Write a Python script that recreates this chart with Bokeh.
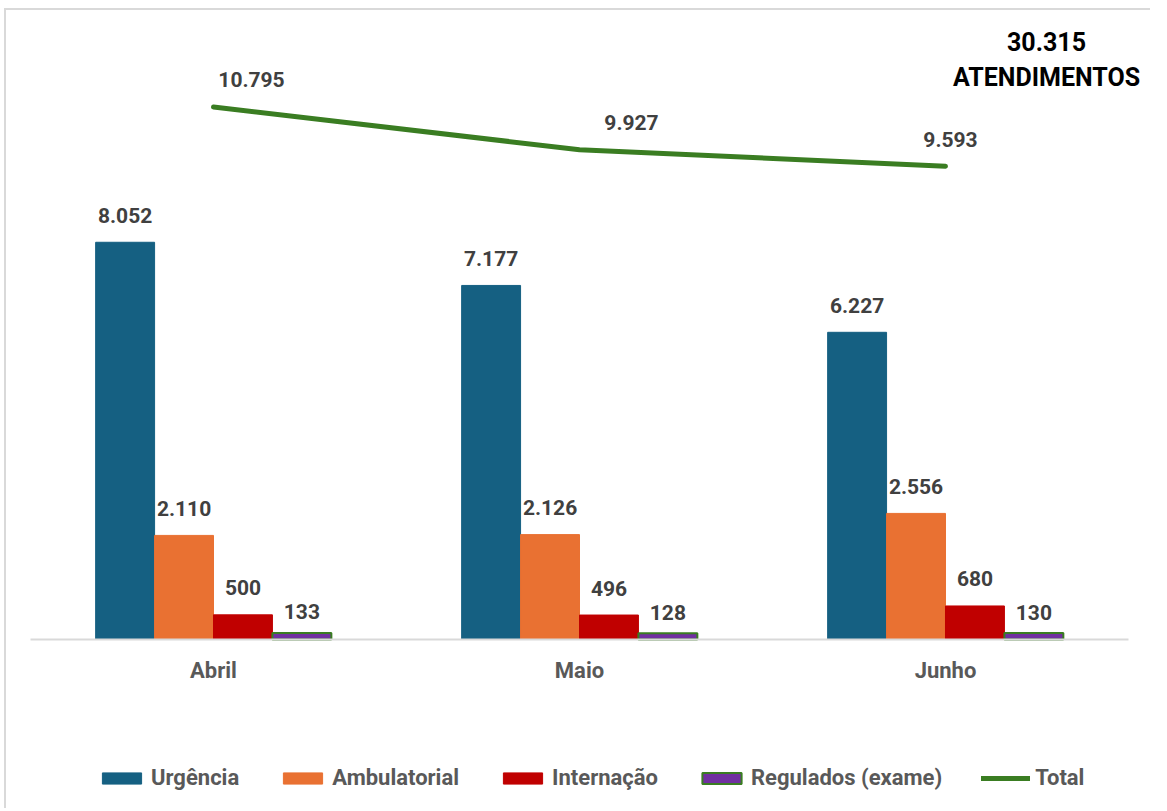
from bokeh.plotting import figure
from bokeh.models import (ColumnDataSource, FactorRange, Range1d, LabelSet, Label,
                          Legend, LegendItem)
from bokeh.transform import dodge
from bokeh.embed import file_html
from bokeh.resources import INLINE
from bokeh.core.properties import value

# ---- data ----
months = ["Abril", "Maio", "Junho"]
urgencia = [8052, 7177, 6227]
ambulatorial = [2110, 2126, 2556]
internacao = [500, 496, 680]
regulados = [133, 128, 130]
total = [10795, 9927, 9593]
grand_total_text = "30.315"
grand_total_caption = "ATENDIMENTOS"

series_names = ["Urgência", "Ambulatorial", "Internação", "Regulados (exame)"]
series_values = [urgencia, ambulatorial, internacao, regulados]

def br(v):
    return f"{v:,}".replace(",", ".")

FONT = "Roboto"
colors = ["#156082", "#e97132", "#c00000", "#7030a0"]
line_colors = ["#156082", "#e97132", "#c00000", "#3a7d22"]
green = "#3a7d22"
bar_w = 0.161
offsets = [-1.5 * bar_w, -0.5 * bar_w, 0.5 * bar_w, 1.5 * bar_w]
label_offsets = [27, 27, 27, 21]

p = figure(x_range=FactorRange(*months, range_padding=0.0656,
                               range_padding_units="absolute"),
           y_range=Range1d(-3466, 12750),
           width=1146, height=800, output_backend="svg", toolbar_location=None,
           min_border=0)
p.styles = {"border-left": "2px solid #d9d9d9", "border-top": "2px solid #d9d9d9",
            "margin-left": "4px", "margin-top": "8px"}
p.outline_line_color = None
p.xgrid.visible = False
p.ygrid.visible = False
p.yaxis.visible = False
p.background_fill_color = "white"
p.border_fill_color = "white"

ax = p.xaxis[0]
ax.fixed_location = 0
ax.bounds = (0, 3)
ax.axis_line_color = "#d9d9d9"
ax.axis_line_width = 2
ax.major_tick_line_color = None
ax.minor_tick_line_color = None
ax.major_tick_out = 0
ax.major_tick_in = 0
ax.major_label_standoff = 18
ax.major_label_text_font = FONT
ax.major_label_text_font_style = "bold"
ax.major_label_text_font_size = "22px"
ax.major_label_text_color = "#595959"

renderers = []
for name, vals, col, lc, off, lo in zip(series_names, series_values, colors,
                                        line_colors, offsets, label_offsets):
    src = ColumnDataSource(dict(month=months, v=vals, lab=[br(x) for x in vals]))
    r = p.vbar(x=dodge("month", off, range=p.x_range), top="v", bottom=0,
               width=bar_w, source=src, fill_color=col, line_color=lc,
               line_width=2 if name.startswith("Regulados") else 1)
    renderers.append(r)
    ls = LabelSet(x=dodge("month", off, range=p.x_range), y="v", text="lab",
                  source=src, y_offset=lo, text_align="center",
                  text_baseline="middle", text_font=value(FONT),
                  text_font_style="bold", text_font_size="21px",
                  text_color="#404040")
    p.add_layout(ls)

tsrc = ColumnDataSource(dict(month=months, v=total, lab=[br(x) for x in total],
                             xo=[38, 52, 5]))
lr = p.line(x="month", y="v", source=tsrc, line_color=green, line_width=5,
            line_cap="round")
renderers.append(lr)
p.add_layout(LabelSet(x="month", y="v", text="lab", source=tsrc, x_offset="xo",
                      y_offset=27, text_align="center", text_baseline="middle",
                      text_font=value(FONT), text_font_style="bold",
                      text_font_size="21px", text_color="#404040"))

# header annotation
for txt, yv in [(grand_total_text, 12120), (grand_total_caption, 11390)]:
    p.add_layout(Label(x=2.776, y=yv, text=txt, text_align="center",
                       text_baseline="middle", text_font=FONT,
                       text_font_style="bold", text_font_size="25px",
                       text_color="black"))

legend = Legend(items=[LegendItem(label=n, renderers=[r])
                       for n, r in zip(series_names + ["Total"], renderers)],
                orientation="horizontal", location=(91, 20),
                glyph_width=49, glyph_height=14, label_height=20,
                label_standoff=5, spacing=39, padding=0, margin=0,
                border_line_color=None, background_fill_alpha=0,
                label_text_font=FONT, label_text_font_style="bold",
                label_text_font_size="22px", label_text_color="#595959")
p.add_layout(legend, "center")

open("out.html", "w").write(file_html(p, INLINE))
